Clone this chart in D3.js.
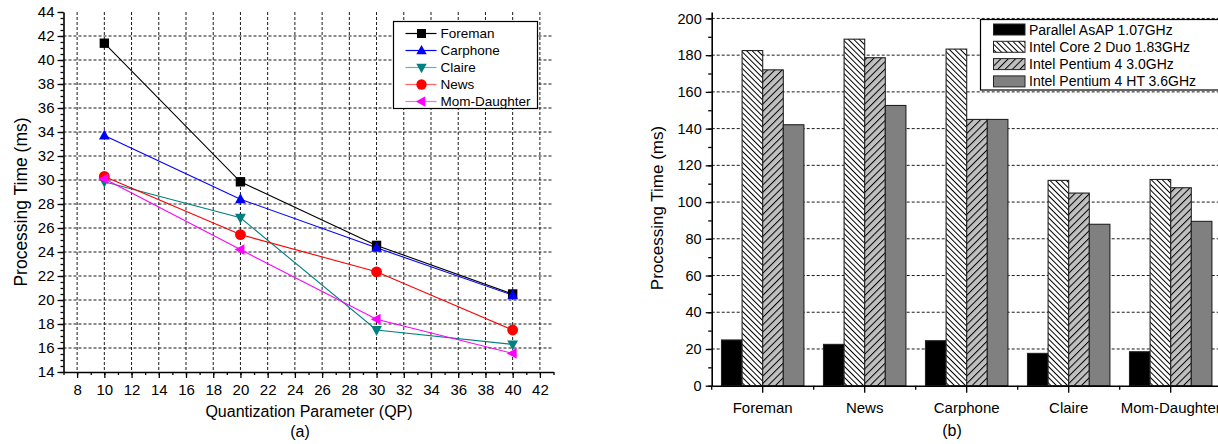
<!DOCTYPE html>
<html><head><meta charset="utf-8">
<script src="https://cdn.jsdelivr.net/npm/d3@7"></script>
<style>
body{margin:0;background:#fff;}
svg{display:block;font-family:"Liberation Sans",Arial,sans-serif;}
</style></head>
<body><svg id="c" width="1218" height="444"></svg>
<script>
// ---------- Data (a) ----------
const qp = [10, 20, 30, 40];
const lineSeries = ["Foreman", "Carphone", "Claire", "News", "Mom-Daughter"];
const foreman = [41.4, 29.85, 24.55, 20.5];
const carphone = [33.7, 28.4, 24.35, 20.4];
const claire = [29.85, 26.85, 17.5, 16.3];
const news = [30.3, 25.45, 22.35, 17.5];
const momDaughter = [30.1, 24.2, 18.4, 15.55];
const xTicksA = [8, 10, 12, 14, 16, 18, 20, 22, 24, 26, 28, 30, 32, 34, 36, 38, 40, 42];
const yTicksA = [14, 16, 18, 20, 22, 24, 26, 28, 30, 32, 34, 36, 38, 40, 42, 44];

// ---------- Data (b) ----------
const clips = ["Foreman", "News", "Carphone", "Claire", "Mom-Daughter"];
const processors = ["Parallel AsAP 1.07GHz", "Intel Core 2 Duo 1.83GHz", "Intel Pentium 4 3.0GHz", "Intel Pentium 4 HT 3.6GHz"];
const asap = [24.9, 22.5, 24.5, 17.6, 18.5];
const core2 = [182.5, 188.7, 183.3, 111.8, 112.3];
const p4 = [172.0, 178.6, 145.0, 104.9, 107.8];
const p4ht = [142.1, 152.6, 145.0, 87.9, 89.5];
const yTicksB = [0, 20, 40, 60, 80, 100, 120, 140, 160, 180, 200];

const svg = d3.select("#c");
const FONT = "'Liberation Sans',Arial,sans-serif";
const GRID = "#1a1a1a", DASH = "3,2";

// ---------- patterns ----------
const defs = svg.append("defs");
function hatch(id, bg, spacing, angle) {
  const p = defs.append("pattern").attr("id", id).attr("patternUnits", "userSpaceOnUse")
    .attr("width", spacing).attr("height", spacing).attr("patternTransform", `rotate(${angle})`);
  p.append("rect").attr("width", spacing).attr("height", spacing).attr("fill", bg);
  p.append("line").attr("x1", 0.5).attr("x2", 0.5).attr("y1", -1).attr("y2", spacing + 1)
    .attr("stroke", "#000").attr("stroke-width", 1);
}
hatch("hBack", "#fff", 3.9, -45);
hatch("hFwd", "#c0c0c0", 5.2, 45);
const fillsB = ["#000", "url(#hBack)", "url(#hFwd)", "#808080"];

// ================= Chart (a) =================
const xA = d3.scaleLinear().domain([7, 43]).range([63.5, 553.5]);
const yA = d3.scaleLinear().domain([14, 44]).range([372, 12]);
const gA = svg.append("g");

// grid
gA.append("g").selectAll("line").data(xTicksA).join("line")
  .attr("x1", d => xA(d)).attr("x2", d => xA(d)).attr("y1", yA(44)).attr("y2", yA(14))
  .attr("stroke", GRID).attr("stroke-dasharray", DASH).attr("stroke-width", 1);
gA.append("g").selectAll("line").data(yTicksA.filter(d => d > 14 && d < 44)).join("line")
  .attr("x1", xA(7)).attr("x2", xA(43)).attr("y1", d => yA(d)).attr("y2", d => yA(d))
  .attr("stroke", GRID).attr("stroke-dasharray", DASH).attr("stroke-width", 1);

// axes
function styleAxis(g, fs) {
  g.select(".domain").attr("stroke", "#000").attr("stroke-width", 1.6);
  g.selectAll(".tick line").attr("stroke", "#000").attr("stroke-width", 1.3);
  g.selectAll(".tick text").attr("font-family", FONT).attr("font-size", fs).attr("fill", "#000");
}
const yAxA = gA.append("g").attr("transform", `translate(${xA(7)},0)`)
  .call(d3.axisLeft(yA).tickValues(yTicksA).tickSize(6).tickSizeOuter(0).tickPadding(3).tickFormat(d3.format("d")));
styleAxis(yAxA, 15);
const yMinA = gA.append("g").attr("transform", `translate(${xA(7)},0)`)
  .call(d3.axisLeft(yA).tickValues(d3.range(14, 44.01, 0.5)).tickSize(3).tickSizeOuter(0).tickFormat(""));
styleAxis(yMinA, 15); yMinA.select(".domain").remove();

const xAxA = gA.append("g").attr("transform", `translate(0,${yA(14)})`)
  .call(d3.axisBottom(xA).tickValues(xTicksA).tickSize(6).tickSizeOuter(0).tickPadding(6).tickFormat(d3.format("d")));
styleAxis(xAxA, 15);
const xMinA = gA.append("g").attr("transform", `translate(0,${yA(14)})`)
  .call(d3.axisBottom(xA).tickValues(d3.range(7, 43.01, 1)).tickSize(3).tickSizeOuter(0).tickFormat(""));
styleAxis(xMinA, 15); xMinA.select(".domain").remove();

// marker drawing
function marker(sel, type, color, s) {
  let p;
  if (type === "square") p = `M${-s},${-s}H${s}V${s}H${-s}Z`;
  else if (type === "up") p = `M0,${-s * 1.25}L${s * 1.15},${s * 0.85}L${-s * 1.15},${s * 0.85}Z`;
  else if (type === "down") p = `M0,${s * 1.25}L${s * 1.15},${-s * 0.85}L${-s * 1.15},${-s * 0.85}Z`;
  else if (type === "left") p = `M${-s * 1.25},0L${s * 0.85},${s * 1.15}L${s * 0.85},${-s * 1.15}Z`;
  if (type === "circle") return sel.append("circle").attr("r", s * 1.15).attr("fill", color);
  return sel.append("path").attr("d", p).attr("fill", color);
}

const seriesA = [
  { name: lineSeries[0], vals: foreman, color: "#000000", m: "square" },
  { name: lineSeries[1], vals: carphone, color: "#0000ff", m: "up" },
  { name: lineSeries[2], vals: claire, color: "#008080", m: "down" },
  { name: lineSeries[3], vals: news, color: "#ff0000", m: "circle" },
  { name: lineSeries[4], vals: momDaughter, color: "#ff00ff", m: "left" }
];
const line = d3.line().x((d, i) => xA(qp[i])).y(d => yA(d));
seriesA.forEach(s => {
  gA.append("path").datum(s.vals).attr("d", line).attr("fill", "none")
    .attr("stroke", s.color).attr("stroke-width", 1.1);
});
seriesA.forEach(s => {
  s.vals.forEach((v, i) => {
    const g = gA.append("g").attr("transform", `translate(${xA(qp[i])},${yA(v)})`);
    marker(g, s.m, s.color, 4.7);
  });
});

// legend (a)
const lgA = gA.append("g");
lgA.append("rect").attr("x", 393.5).attr("y", 21.5).attr("width", 144).attr("height", 87)
  .attr("fill", "#fff").attr("stroke", "#000").attr("stroke-width", 1.2);
seriesA.forEach((s, i) => {
  const cy = 33.5 + i * 17;
  lgA.append("line").attr("x1", 405.5).attr("x2", 436.5).attr("y1", cy).attr("y2", cy)
    .attr("stroke", s.color).attr("stroke-width", 1.2).attr("opacity", i >= 2 ? 0.6 : 1);
  const g = lgA.append("g").attr("transform", `translate(421.5,${cy})`);
  marker(g, s.m, s.color, 4.5);
  lgA.append("text").attr("x", 440.5).attr("y", cy).attr("dy", "0.35em")
    .attr("font-size", 13.5).attr("font-family", FONT).text(s.name);
});

// titles (a)
gA.append("text").attr("transform", `translate(27,202) rotate(-90)`)
  .attr("text-anchor", "middle").attr("font-size", 17.5).attr("font-family", FONT).text("Processing Time (ms)");
gA.append("text").attr("x", 309).attr("y", 417).attr("text-anchor", "middle")
  .attr("font-size", 16).attr("font-family", FONT).text("Quantization Parameter (QP)");
gA.append("text").attr("x", 300).attr("y", 437).attr("text-anchor", "middle")
  .attr("font-size", 16).attr("font-family", FONT).text("(a)");

// ================= Chart (b) =================
const xB = d3.scaleBand().domain(clips).range([711.7, 1221.7]).paddingInner(0).paddingOuter(0);
const xSub = d3.scaleBand().domain(processors).range([0, xB.bandwidth()]).paddingInner(0).paddingOuter(0.475);
const yB = d3.scaleLinear().domain([0, 203.5]).range([385.7, 12]);
const gB = svg.append("g");

gB.append("g").selectAll("line").data(yTicksB.filter(d => d > 0)).join("line")
  .attr("x1", xB.range()[0]).attr("x2", 1218).attr("y1", d => yB(d)).attr("y2", d => yB(d))
  .attr("stroke", GRID).attr("stroke-dasharray", DASH).attr("stroke-width", 1);

const valsB = [asap, core2, p4, p4ht];
const groups = gB.append("g").selectAll("g").data(clips).join("g")
  .attr("transform", d => `translate(${xB(d)},0)`);
groups.selectAll("rect").data((c, ci) => processors.map((p, pi) => ({ p, pi, v: valsB[pi][ci] }))).join("rect")
  .attr("x", d => xSub(d.p)).attr("width", xSub.bandwidth())
  .attr("y", d => yB(d.v)).attr("height", d => yB(0) - yB(d.v))
  .attr("fill", d => fillsB[d.pi]).attr("stroke", "#222").attr("stroke-width", 1.1);

const yAxB = gB.append("g").attr("transform", `translate(${xB.range()[0]},0)`)
  .call(d3.axisLeft(yB).tickValues(yTicksB).tickSize(6).tickSizeOuter(0).tickPadding(4));
styleAxis(yAxB, 14.5);
const yMinB = gB.append("g").attr("transform", `translate(${xB.range()[0]},0)`)
  .call(d3.axisLeft(yB).tickValues(d3.range(0, 200.01, 10)).tickSize(3.5).tickSizeOuter(0).tickFormat(""));
styleAxis(yMinB, 14.5); yMinB.select(".domain").remove();

const xAxB = gB.append("g").attr("transform", `translate(0,${yB(0)})`)
  .call(d3.axisBottom(xB).tickSize(7).tickSizeOuter(0).tickPadding(10));
styleAxis(xAxB, 15);
const bounds = clips.map(c => xB(c));
gB.append("g").selectAll("line").data(bounds).join("line")
  .attr("x1", d => d).attr("x2", d => d).attr("y1", yB(0)).attr("y2", yB(0) + 4)
  .attr("stroke", "#000").attr("stroke-width", 1.3);

// legend (b)
const lgB = gB.append("g");
lgB.append("rect").attr("x", 980.5).attr("y", 19.5).attr("width", 260).attr("height", 70.5)
  .attr("fill", "#fff").attr("stroke", "#000").attr("stroke-width", 1.2);
processors.forEach((p, i) => {
  const cy = 29.5 + i * 17.3;
  lgB.append("rect").attr("x", 993.5).attr("y", cy - 5.5).attr("width", 31.5).attr("height", 11)
    .attr("fill", fillsB[i]).attr("stroke", "#222").attr("stroke-width", 1);
  lgB.append("text").attr("x", 1029).attr("y", cy).attr("dy", "0.36em")
    .attr("font-size", 14).attr("font-family", FONT).text(p);
});

gB.append("text").attr("transform", `translate(663,208) rotate(-90)`)
  .attr("text-anchor", "middle").attr("font-size", 17).attr("font-family", FONT).text("Processing Time (ms)");
gB.append("text").attr("x", 952).attr("y", 436).attr("text-anchor", "middle")
  .attr("font-size", 16).attr("font-family", FONT).text("(b)");
</script></body></html>
